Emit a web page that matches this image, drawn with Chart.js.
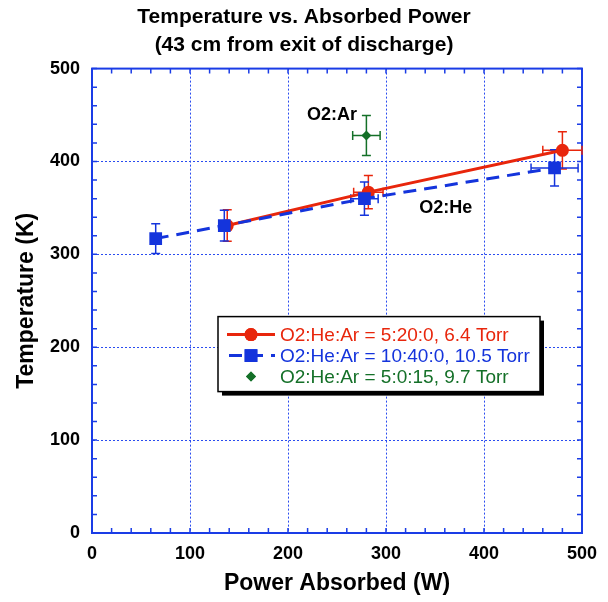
<!DOCTYPE html>
<html>
<head>
<meta charset="utf-8">
<title>Temperature vs. Absorbed Power</title>
<script src="https://cdn.jsdelivr.net/npm/chart.js@4.4.1/dist/chart.umd.min.js"></script>
<style>
  html, body { margin: 0; padding: 0; background: #fff; }
  #wrap { width: 608px; height: 602px; }
</style>
</head>
<body>
<div id="wrap"><canvas id="chart" width="608" height="602"></canvas></div>
<script>
const FONT = "'Liberation Sans', Arial, Helvetica, sans-serif";

/* ===============================
   DATA
=============================== */
const titleLines = ['Temperature vs. Absorbed Power', '(43 cm from exit of discharge)'];
const xAxisTitle = 'Power Absorbed (W)';
const yAxisTitle = 'Temperature (K)';
const xTicks = [0, 100, 200, 300, 400, 500];
const yTicks = [0, 100, 200, 300, 400, 500];
const minorStep = 20;

// O2:He:Ar = 5:20:0, 6.4 Torr
const lowPower = [138, 282, 480];
const lowTemp = [331, 367, 412];
const lowPowerErr = [3, 15, 20];
const lowTempErr = [17, 18, 20];

// O2:He:Ar = 10:40:0, 10.5 Torr
const highPower = [65, 135, 278, 472];
const highTemp = [317, 331, 360, 393];
const highPowerErr = [2, 3, 14, 24];
const highTempErr = [16, 16.5, 18, 19.5];

// O2:He:Ar = 5:0:15, 9.7 Torr
const arPower = [280];
const arTemp = [428];
const arPowerErr = [14];
const arTempErr = [21.5];

const seriesNames = [
  'O2:He:Ar = 5:20:0, 6.4 Torr',
  'O2:He:Ar = 10:40:0, 10.5 Torr',
  'O2:He:Ar = 5:0:15, 9.7 Torr'
];
const seriesColors = ['#e8260c', '#1434dc', '#147028'];

const noteLabels = ['O2:Ar', 'O2:He'];
const notePower = [245, 361];
const noteTemp = [444.5, 345];

const gridBlue = '#2a4cf0';
const frameBlue = '#1a3ce6';

/* ===============================
   HELPERS
=============================== */
const toPoints = (xs, ys) => xs.map((x, i) => ({ x, y: ys[i] }));

/* ===============================
   PLUGINS
=============================== */
const frameAndMinorTicks = {
  id: 'frameAndMinorTicks',
  beforeDatasetsDraw(chart) {
    const { ctx, chartArea: a, scales: { x, y } } = chart;
    ctx.save();
    ctx.strokeStyle = frameBlue;
    ctx.lineWidth = 1.5;
    ctx.beginPath();
    for (let v = 0; v <= 500; v += minorStep) {
      const px = x.getPixelForValue(v);
      ctx.moveTo(px, a.bottom); ctx.lineTo(px, a.bottom - 5);
      ctx.moveTo(px, a.top); ctx.lineTo(px, a.top + 5);
      const py = y.getPixelForValue(v);
      ctx.moveTo(a.left, py); ctx.lineTo(a.left + 5, py);
      ctx.moveTo(a.right, py); ctx.lineTo(a.right - 5, py);
    }
    ctx.stroke();
    ctx.lineWidth = 2;
    ctx.strokeRect(a.left, a.top, a.right - a.left, a.bottom - a.top);
    ctx.restore();
  }
};

const errorBars = {
  id: 'errorBars',
  beforeDatasetsDraw(chart) {
    const { ctx, scales: { x, y } } = chart;
    const cap = 4.5;
    chart.data.datasets.forEach(ds => {
      ctx.save();
      ctx.strokeStyle = ds.borderColor;
      ctx.lineWidth = 1.5;
      ctx.beginPath();
      ds.data.forEach((p, i) => {
        const px = x.getPixelForValue(p.x);
        const py = y.getPixelForValue(p.y);
        const xl = x.getPixelForValue(p.x - ds.xErr[i]);
        const xr = x.getPixelForValue(p.x + ds.xErr[i]);
        const yt = y.getPixelForValue(p.y + ds.yErr[i]);
        const yb = y.getPixelForValue(p.y - ds.yErr[i]);
        ctx.moveTo(xl, py); ctx.lineTo(xr, py);
        ctx.moveTo(xl, py - cap); ctx.lineTo(xl, py + cap);
        ctx.moveTo(xr, py - cap); ctx.lineTo(xr, py + cap);
        ctx.moveTo(px, yt); ctx.lineTo(px, yb);
        ctx.moveTo(px - cap, yt); ctx.lineTo(px + cap, yt);
        ctx.moveTo(px - cap, yb); ctx.lineTo(px + cap, yb);
      });
      ctx.stroke();
      ctx.restore();
    });
  }
};

const notes = {
  id: 'notes',
  afterDatasetsDraw(chart) {
    const { ctx, scales: { x, y } } = chart;
    ctx.save();
    ctx.font = `bold 18px ${FONT}`;
    ctx.fillStyle = '#000';
    ctx.textAlign = 'center';
    ctx.textBaseline = 'alphabetic';
    noteLabels.forEach((t, i) => {
      ctx.fillText(t, x.getPixelForValue(notePower[i]), y.getPixelForValue(noteTemp[i]));
    });
    ctx.restore();
  }
};

const boxLegend = {
  id: 'boxLegend',
  afterDraw(chart) {
    const { ctx, chartArea: a } = chart;
    const left = a.left + 126, top = a.top + 248, w = 322, h = 75;
    ctx.save();
    // shadow
    ctx.fillStyle = '#000';
    ctx.fillRect(left + 4, top + 4, w, h);
    ctx.fillStyle = '#fff';
    ctx.fillRect(left, top, w, h);
    ctx.strokeStyle = '#000';
    ctx.lineWidth = 1.5;
    ctx.strokeRect(left, top, w, h);

    ctx.font = `19px ${FONT}`;
    ctx.textBaseline = 'middle';
    ctx.textAlign = 'left';
    chart.data.datasets.forEach((ds, i) => {
      const ry = top + 18 + i * 21;
      const sx0 = left + 9, sx1 = left + 57, mx = left + 33;
      ctx.strokeStyle = ds.borderColor;
      ctx.fillStyle = ds.backgroundColor;
      if (ds.showLine) {
        ctx.lineWidth = 3;
        ctx.setLineDash(ds.borderDash || []);
        ctx.lineDashOffset = ds.borderDash ? -2 : 0;
        ctx.beginPath();
        ctx.moveTo(sx0, ry); ctx.lineTo(sx1, ry);
        ctx.stroke();
        ctx.setLineDash([]);
      }
      Chart.helpers.drawPoint(ctx, { pointStyle: ds.pointStyle, radius: ds.pointRadius, borderWidth: 0 }, mx, ry);
      ctx.fill();
      ctx.fillStyle = ds.borderColor;
      ctx.fillText(seriesNames[i], left + 62, ry + 1);
    });
    ctx.restore();
  }
};

/* ===============================
   CHART
=============================== */
const chart = new Chart(document.getElementById('chart'), {
  type: 'scatter',
  data: {
    datasets: [
      {
        label: seriesNames[0],
        data: toPoints(lowPower, lowTemp),
        xErr: lowPowerErr, yErr: lowTempErr,
        showLine: true,
        borderColor: seriesColors[0], backgroundColor: seriesColors[0],
        borderWidth: 3,
        pointStyle: 'circle', pointRadius: 6.5, pointBorderWidth: 0,
        order: 1
      },
      {
        label: seriesNames[1],
        data: toPoints(highPower, highTemp),
        xErr: highPowerErr, yErr: highTempErr,
        showLine: true,
        borderColor: seriesColors[1], backgroundColor: seriesColors[1],
        borderWidth: 3, borderDash: [13, 8],
        pointStyle: 'rect', pointRadius: 9, pointBorderWidth: 0,
        order: 0
      },
      {
        label: seriesNames[2],
        data: toPoints(arPower, arTemp),
        xErr: arPowerErr, yErr: arTempErr,
        showLine: false,
        borderColor: seriesColors[2], backgroundColor: seriesColors[2],
        pointStyle: 'rectRot', pointRadius: 5, pointBorderWidth: 0,
        order: 2
      }
    ]
  },
  options: {
    responsive: false,
    animation: false,
    layout: { padding: { left: 0, right: 0, top: 0, bottom: 0 } },
    plugins: {
      legend: { display: false },
      tooltip: { enabled: false },
      title: {
        display: true,
        text: titleLines,
        color: '#000',
        font: { family: FONT, size: 21, weight: 'bold', lineHeight: 1.3 },
        padding: { top: 4, bottom: 10 }
      }
    },
    scales: {
      x: {
        type: 'linear', min: 0, max: 500,
        afterBuildTicks: s => { s.ticks = xTicks.map(v => ({ value: v })); },
        afterFit: s => { s.height = 69; },
        grid: { color: gridBlue, lineWidth: 1, drawTicks: false },
        border: { color: frameBlue, width: 2, dash: [2, 2] },
        ticks: { color: '#000', padding: 10, maxRotation: 0, font: { family: FONT, size: 18, weight: 'bold' } },
        title: {
          display: true, text: xAxisTitle, color: '#000',
          font: { family: FONT, size: 23, weight: 'bold', lineHeight: 1 },
          padding: { top: 0, bottom: 7 }
        }
      },
      y: {
        type: 'linear', min: 0, max: 500,
        afterBuildTicks: s => { s.ticks = yTicks.map(v => ({ value: v })); },
        afterFit: s => { s.width = 92; },
        grid: { color: gridBlue, lineWidth: 1, drawTicks: false },
        border: { color: frameBlue, width: 2, dash: [2, 2] },
        ticks: { color: '#000', padding: 12, font: { family: FONT, size: 18, weight: 'bold' } },
        title: {
          display: true, text: yAxisTitle, color: '#000',
          font: { family: FONT, size: 23, weight: 'bold', lineHeight: 1 },
          padding: { top: 15, bottom: 0 }
        }
      },
      yRight: {
        type: 'linear', position: 'right', min: 0, max: 500,
        afterFit: s => { s.width = 26; },
        grid: { display: false, drawOnChartArea: false },
        border: { display: false },
        ticks: { display: false }
      }
    }
  },
  plugins: [frameAndMinorTicks, errorBars, notes, boxLegend]
});
</script>
</body>
</html>
